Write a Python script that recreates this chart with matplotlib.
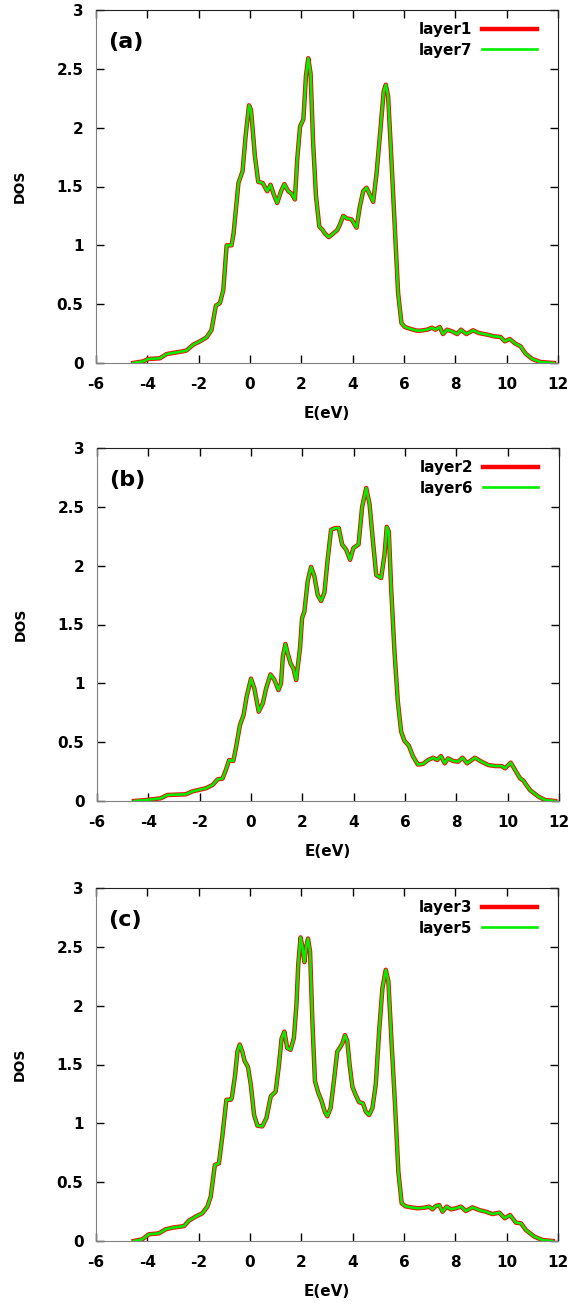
import matplotlib
matplotlib.use('Agg')
import matplotlib.pyplot as plt

plt.rcParams['font.family'] = 'DejaVu Sans'
plt.rcParams['font.weight'] = 'bold'

# panel (a): layer1 / layer7
e_a = [-4.55, -4.16, -3.97, -3.51, -3.25, -2.6, -2.47, -2.21, -1.95, -1.69, -1.5, -1.33, -1.17, -1.04,
       -0.91, -0.72, -0.64, -0.45, -0.29, -0.17, -0.04, 0.04, 0.19, 0.32, 0.49, 0.67, 0.80, 0.93, 1.06,
       1.21, 1.34, 1.49, 1.62, 1.75, 1.84, 1.95, 2.08, 2.18, 2.27, 2.36, 2.46, 2.57, 2.70, 2.83, 2.92,
       3.07, 3.24, 3.40, 3.50, 3.63, 3.76, 3.96, 4.15, 4.28, 4.41, 4.54, 4.67, 4.80, 4.93, 5.08, 5.21,
       5.29, 5.38, 5.51, 5.64, 5.77, 5.90, 6.03, 6.25, 6.49, 6.64, 6.90, 7.09, 7.22, 7.39, 7.52, 7.68,
       7.87, 8.07, 8.22, 8.43, 8.69, 8.91, 9.24, 9.50, 9.76, 9.93, 10.12, 10.34, 10.54, 10.74, 11.0,
       11.32, 11.84]
dos_layer1 = [0.0, 0.014, 0.034, 0.04, 0.076, 0.10, 0.107, 0.156, 0.184, 0.218, 0.28, 0.487, 0.51, 0.62,
              1.0, 1.0, 1.10, 1.53, 1.63, 1.93, 2.19, 2.15, 1.76, 1.54, 1.53, 1.46, 1.515, 1.43, 1.36,
              1.46, 1.52, 1.46, 1.44, 1.39, 1.73, 2.01, 2.07, 2.44, 2.59, 2.46, 1.87, 1.42, 1.16, 1.13, 1.10,
              1.07, 1.10, 1.13, 1.175, 1.25, 1.23, 1.22, 1.15, 1.33, 1.46, 1.49, 1.43, 1.37, 1.61, 1.98, 2.31,
              2.365, 2.27, 1.73, 1.16, 0.595, 0.34, 0.306, 0.29, 0.275, 0.275, 0.283, 0.30, 0.283, 0.306, 0.246, 0.283,
              0.269, 0.246, 0.283, 0.246, 0.278, 0.255, 0.241, 0.227, 0.221, 0.184, 0.204, 0.164, 0.142, 0.079, 0.034,
              0.008, 0.0]
dos_layer7 = list(dos_layer1)

# panel (b): layer2 / layer6
e_b = [-4.56, -4.1, -3.52, -3.26, -2.54, -2.28, -1.76, -1.5, -1.30, -1.11, -0.98, -0.85, -0.69, -0.59,
       -0.43, -0.29, -0.17, 0.0, 0.13, 0.30, 0.46, 0.59, 0.76, 0.91, 1.07, 1.17, 1.24, 1.34, 1.43, 1.54,
       1.65, 1.76, 1.91, 1.99, 2.08, 2.21, 2.34, 2.47, 2.60, 2.73, 2.86, 2.99, 3.12, 3.29, 3.42, 3.55,
       3.71, 3.86, 3.99, 4.19, 4.33, 4.49, 4.62, 4.75, 4.88, 5.07, 5.20, 5.29, 5.37, 5.46, 5.59, 5.72,
       5.85, 5.98, 6.15, 6.31, 6.50, 6.70, 6.9, 7.1, 7.25, 7.40, 7.55, 7.68, 7.88, 8.07, 8.24, 8.42,
       8.72, 8.98, 9.24, 9.51, 9.77, 9.90, 10.12, 10.29, 10.48, 10.61, 10.87, 11.2, 11.46, 11.85]
dos_layer2 = [0.0, 0.008, 0.023, 0.051, 0.057, 0.082, 0.108, 0.136, 0.184, 0.19, 0.263, 0.348, 0.34, 0.447,
              0.646, 0.73, 0.886, 1.04, 0.957, 0.759, 0.83, 0.957, 1.076, 1.03, 0.943, 1.0, 1.226, 1.334, 1.255, 1.17,
              1.127, 1.028, 1.30, 1.555, 1.61, 1.87, 1.99, 1.91, 1.75, 1.70, 1.77, 2.06, 2.305, 2.32, 2.32, 2.18,
              2.135, 2.05, 2.15, 2.18, 2.50, 2.66, 2.52, 2.21, 1.92, 1.895, 2.09, 2.33, 2.29, 1.81, 1.27, 0.847,
              0.59, 0.51, 0.47, 0.38, 0.31, 0.315, 0.348, 0.368, 0.348, 0.382, 0.32, 0.362, 0.34, 0.334, 0.368, 0.32,
              0.368, 0.334, 0.306, 0.297, 0.297, 0.278, 0.326, 0.263, 0.193, 0.173, 0.093, 0.037, 0.008, 0.0]
dos_layer6 = list(dos_layer2)

# panel (c): layer3 / layer5
e_c = [-4.53, -4.2, -3.94, -3.55, -3.29, -3.03, -2.57, -2.38, -2.12, -1.86, -1.66, -1.53, -1.37, -1.21,
       -1.08, -0.92, -0.75, -0.71, -0.58, -0.49, -0.40, -0.30, -0.21, -0.08, 0.03, 0.16, 0.29, 0.48, 0.64,
       0.81, 1.00, 1.13, 1.23, 1.34, 1.45, 1.58, 1.71, 1.81, 1.88, 1.97, 2.04, 2.12, 2.19, 2.26, 2.34,
       2.43, 2.53, 2.66, 2.79, 2.91, 3.01, 3.14, 3.27, 3.40, 3.51, 3.60, 3.70, 3.79, 3.88, 3.99, 4.12,
       4.25, 4.40, 4.51, 4.64, 4.77, 4.90, 5.03, 5.16, 5.29, 5.39, 5.52, 5.65, 5.78, 5.91, 6.06, 6.27,
       6.53, 6.79, 6.98, 7.11, 7.24, 7.37, 7.50, 7.66, 7.83, 8.02, 8.22, 8.41, 8.67, 8.93, 9.19, 9.45,
       9.71, 9.93, 10.13, 10.36, 10.56, 10.75, 11.08, 11.40, 11.79]
dos_layer3 = [0.0, 0.014, 0.057, 0.065, 0.099, 0.113, 0.127, 0.173, 0.207, 0.235, 0.292, 0.377, 0.646, 0.66,
              0.886, 1.20, 1.20, 1.215, 1.41, 1.61, 1.67, 1.61, 1.53, 1.48, 1.33, 1.07, 0.98, 0.974, 1.045,
              1.23, 1.27, 1.50, 1.72, 1.78, 1.64, 1.625, 1.725, 2.01, 2.35, 2.58, 2.50, 2.37, 2.50, 2.57, 2.46,
              1.87, 1.36, 1.26, 1.19, 1.10, 1.06, 1.13, 1.36, 1.61, 1.645, 1.68, 1.75, 1.70, 1.50, 1.31, 1.24,
              1.18, 1.17, 1.10, 1.07, 1.13, 1.33, 1.78, 2.15, 2.305, 2.21, 1.67, 1.16, 0.59, 0.32, 0.295, 0.286,
              0.278, 0.283, 0.292, 0.269, 0.297, 0.306, 0.249, 0.292, 0.269, 0.278, 0.292, 0.255, 0.286, 0.263, 0.249, 0.229,
              0.241, 0.193, 0.221, 0.156, 0.150, 0.093, 0.037, 0.008, 0.0]
dos_layer5 = list(dos_layer3)

panels = [
    ('(a)', e_a, dos_layer1, dos_layer7, 'layer1', 'layer7'),
    ('(b)', e_b, dos_layer2, dos_layer6, 'layer2', 'layer6'),
    ('(c)', e_c, dos_layer3, dos_layer5, 'layer3', 'layer5'),
]

xticks = [-6, -4, -2, 0, 2, 4, 6, 8, 10, 12]
yticks = [0, 0.5, 1, 1.5, 2, 2.5, 3]
ytick_labels = ['0', '0.5', '1', '1.5', '2', '2.5', '3']

fig = plt.figure(figsize=(5.74, 13.04), dpi=100)
W, H = 574.0, 1304.0
# (left px, bottom px) of each axes box
boxes = [(96, 363), (97, 801), (96, 1241)]
ax_w, ax_h = 462, 353

for (tag, e, d1, d2, lab1, lab2), (lx, by) in zip(panels, boxes):
    ax = fig.add_axes([lx / W, (H - by) / H, ax_w / W, ax_h / H])
    ax.plot(e, d1, color='#ff0000', lw=3.2, label=lab1, solid_joinstyle='round')
    ax.plot(e, d2, color='#00ee00', lw=1.9, label=lab2, solid_joinstyle='round')

    ax.set_xlim(-6, 12)
    ax.set_ylim(0, 3)
    ax.set_xticks(xticks)
    ax.set_xticklabels([str(t) for t in xticks])
    ax.set_yticks(yticks)
    ax.set_yticklabels(ytick_labels)
    ax.tick_params(direction='in', length=6, width=1, top=True, right=True,
                   labelsize=11, colors='black')
    ax.tick_params(axis='x', pad=10)
    ax.tick_params(axis='y', pad=9)
    for s in ['left', 'bottom']:
        ax.spines[s].set_color('#808080')
    for s in ['top', 'right']:
        ax.spines[s].set_color('#202020')

    ax.set_xlabel('E(eV)', fontsize=11, fontweight='bold', va='center')
    ax.xaxis.set_label_coords(0.5, -50 / ax_h)
    ax.set_ylabel('DOS', fontsize=10, fontweight='bold', va='center')
    ax.yaxis.set_label_coords(-76 / ax_w, 0.5)

    ax.text(0.026, 0.91, tag, transform=ax.transAxes, fontsize=16,
            fontweight='bold', va='center', ha='left')

    leg = ax.legend(loc='upper right', bbox_to_anchor=(0.955, 0.966), frameon=False,
                    markerfirst=False, fontsize=11, handlelength=3.6, handletextpad=0.65,
                    borderpad=0, borderaxespad=0, labelspacing=0.38)
    for t in leg.get_texts():
        t.set_fontweight('bold')

fig.savefig('out.png', dpi=100)
